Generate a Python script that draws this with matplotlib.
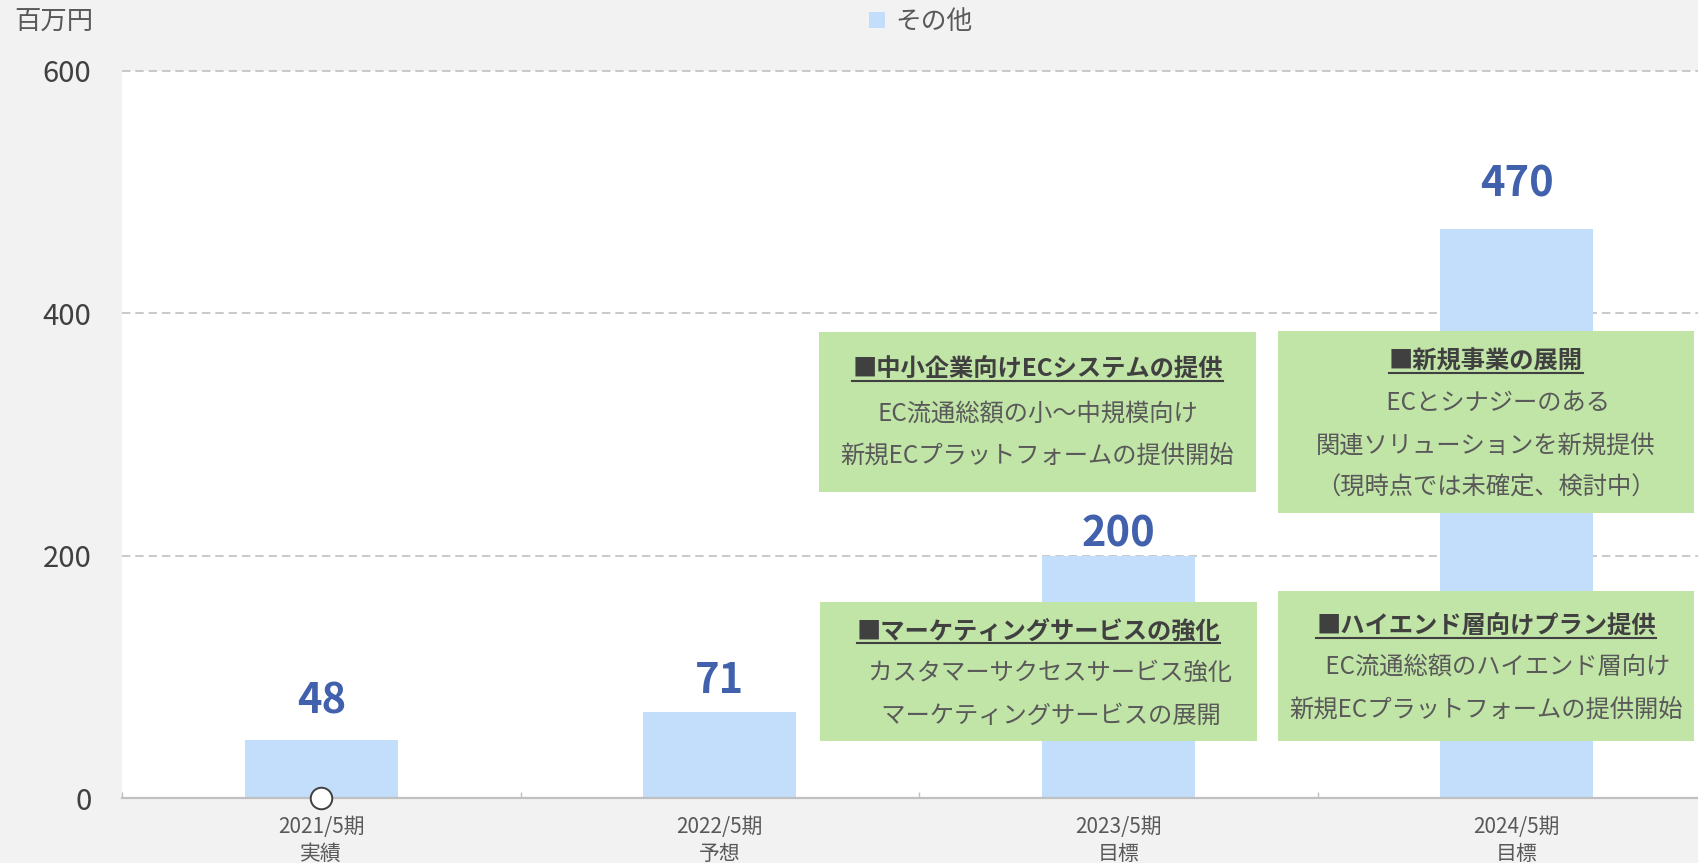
import matplotlib
matplotlib.use("Agg")
import matplotlib.pyplot as plt
from matplotlib.patches import Rectangle
from matplotlib.lines import Line2D
from matplotlib.transforms import IdentityTransform

plt.rcParams['font.family'] = ['Noto Sans CJK JP', 'DejaVu Sans']

# ---- data ----
periods = ["2021/5期", "2022/5期", "2023/5期", "2024/5期"]
period_kinds = ["実績", "予想", "目標", "目標"]
values = [48, 71, 200, 470]
series_name = "その他"
unit_label = "百万円"
y_ticks = [0, 200, 400, 600]
marker_values = [0]

boxes = [
    ("■中小企業向けECシステムの提供", ["EC流通総額の小〜中規模向け", "新規ECプラットフォームの提供開始"]),
    ("■新規事業の展開", ["　ECとシナジーのある", "関連ソリューションを新規提供", "（現時点では未確定、検討中）"]),
    ("■マーケティングサービスの強化", ["　カスタマーサクセスサービス強化", "　マーケティングサービスの展開"]),
    ("■ハイエンド層向けプラン提供", ["　EC流通総額のハイエンド層向け", "新規ECプラットフォームの提供開始"]),
]

# ---- layout (pixels, top-down) ----
W, H = 1698, 863
box_rects = [(819, 332, 1256, 492), (1278, 331, 1694, 513),
             (820, 602, 1257, 741), (1278, 591, 1694, 741)]
box_lines_y = [[370, 414, 457], [362, 403, 447, 488], [632, 673, 716], [627, 667, 711]]
label_gap_px = [27, 20, 10, 33]
DESCENT_PX = 10

BG = "#f2f2f2"
BAR = "#c2defa"
GREEN = "#c1e4a7"
LABEL_BLUE = "#4161ad"
GRID = "#c0c0c0"
DARK = "#404040"
MID = "#595959"

fig = plt.figure(figsize=(W / 100, H / 100), dpi=100, facecolor=BG)
ax_left, ax_right = 122, 122 + 4 * 398.5
ax_top, ax_bottom = 71, 798
ax = fig.add_axes([ax_left / W, 1 - ax_bottom / H, (ax_right - ax_left) / W, (ax_bottom - ax_top) / H])
ax.set_facecolor("white")

x = list(range(len(periods)))
bars = ax.bar(x, values, width=0.384, color=BAR, zorder=2, label=series_name)
ax.plot([0], marker_values, 'o', ms=15.5, mfc='white', mec=DARK, mew=1.4, zorder=6, clip_on=False)

ax.set_xlim(-0.5, 3.5)
ax.set_ylim(0, 600)
ax.set_yticks(y_ticks)
ax.set_yticklabels([str(v) for v in y_ticks], fontsize=21, color=DARK)
ax.tick_params(axis='y', length=0, pad=22)

ax.set_xticks(x)
ax.set_xticklabels([f"{p}\n{k}" for p, k in zip(periods, period_kinds)],
                   fontsize=15, color=MID, linespacing=1.3)
ax.tick_params(axis='x', which='major', length=0, pad=13)
ax.set_xticks([-0.5, 0.5, 1.5, 2.5, 3.5], minor=True)
ax.tick_params(axis='x', which='minor', direction='in', length=4.5, width=1, color=GRID)

ax.set_axisbelow(True)
ax.yaxis.grid(True, color=GRID, linewidth=1.2, linestyle=(0, (5, 3)))
for gl in ax.get_ygridlines():
    gl.set_clip_on(False)
for s in ['top', 'right', 'left']:
    ax.spines[s].set_visible(False)
ax.spines['bottom'].set_color(GRID)
ax.spines['bottom'].set_linewidth(1.6)
ax.spines['bottom'].set_zorder(3)

# value labels
for b, v, gap in zip(bars, values, label_gap_px):
    ax.annotate(str(v), (b.get_x() + b.get_width() / 2, v), xytext=(0, (gap - DESCENT_PX) * 0.72),
                textcoords='offset points', ha='center', va='bottom',
                fontsize=30, fontweight='bold', color=LABEL_BLUE, zorder=5)

# unit label and legend
fig.text(14 / W, 1 - 22 / H, unit_label, fontsize=19, color=MID, ha='left', va='center')
leg = fig.legend(handles=[bars], labels=[series_name], loc='center',
                 bbox_to_anchor=(921 / W, 1 - 22 / H), frameon=False,
                 fontsize=18.5, handlelength=0.62, handleheight=0.62, handletextpad=0.4,
                 labelcolor=MID)

# green annotation boxes
title_texts = []
for (title, lines), (x0, y0, x1, y1), ys in zip(boxes, box_rects, box_lines_y):
    fig.patches.append(Rectangle((x0 / W, 1 - y1 / H), (x1 - x0) / W, (y1 - y0) / H,
                                 transform=fig.transFigure, facecolor=GREEN,
                                 edgecolor='none', zorder=10))
    cx = (x0 + x1) / 2 / W
    t = fig.text(cx, 1 - ys[0] / H, title, fontsize=17.5, fontweight='bold', color=DARK,
                 ha='center', va='center', zorder=11)
    title_texts.append((t, ys[0]))
    for ln, yy in zip(lines, ys[1:]):
        fig.text(cx, 1 - yy / H, ln, fontsize=17.5, color=MID, ha='center', va='center', zorder=11)

fig.canvas.draw()
renderer = fig.canvas.get_renderer()
for t, yc in title_texts:
    bb = t.get_window_extent(renderer)
    yline = H - (yc + 11)
    fig.lines.append(Line2D([bb.x0, bb.x1], [yline, yline], transform=IdentityTransform(),
                            color=DARK, linewidth=1.5, zorder=12))

fig.savefig("out.png", dpi=100, facecolor=BG)
